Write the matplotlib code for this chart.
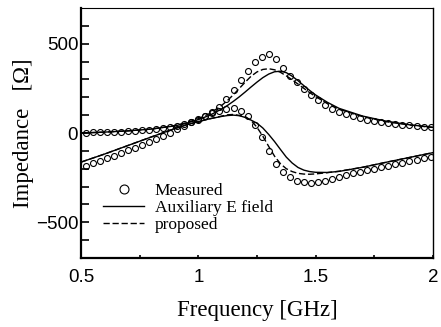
import numpy as np
import matplotlib
matplotlib.use('Agg')
import matplotlib.pyplot as plt

# measured points (every ~0.03 GHz)
f_meas = np.round(np.arange(0.52, 2.0, 0.03), 2)
re_meas = [2, 3, 4, 5, 7, 8, 10, 12, 15, 18, 22, 27, 33, 40, 50, 62, 75, 95, 118, 148,
           190, 240, 295, 350, 397, 428, 440, 412, 363, 322, 284, 248, 215, 185, 158, 136,
           118, 104, 93, 83, 75, 68, 62, 56, 51, 47, 43, 39, 35, 32]
im_meas = [-182, -168, -154, -140, -126, -112, -97, -82, -67, -50, -34, -17, 2, 22, 42, 62,
           80, 97, 112, 125, 134, 138, 125, 95, 45, -25, -98, -172, -218, -248, -266, -276,
           -278, -274, -266, -256, -246, -236, -226, -217, -208, -199, -190, -182, -174, -166,
           -158, -150, -142, -134]

# simulated curves
f_line = [0.5, 0.6, 0.7, 0.8, 0.9, 0.95, 1.0, 1.05, 1.1, 1.125, 1.15, 1.175, 1.2, 1.225,
          1.25, 1.275, 1.3, 1.325, 1.35, 1.375, 1.4, 1.425, 1.45, 1.475, 1.5, 1.55, 1.6,
          1.7, 1.8, 1.9, 2.0]
aux_re = [0, 5, 12, 22, 40, 55, 75, 100, 135, 155, 178, 203, 230, 258, 285, 310, 330, 343,
          346, 338, 318, 293, 265, 238, 213, 172, 138, 95, 66, 46, 32]
aux_im = [-163, -118, -70, -22, 25, 46, 64, 80, 93, 98, 100, 97, 87, 72, 55, 28, -8, -48,
          -92, -135, -168, -193, -208, -216, -220, -221, -215, -192, -164, -137, -110]
prop_re = [0, 5, 12, 22, 42, 58, 80, 110, 155, 183, 215, 250, 285, 318, 342, 356, 360, 354,
           340, 320, 298, 274, 250, 226, 204, 165, 133, 92, 64, 45, 31]
prop_im = [-163, -118, -70, -22, 25, 46, 64, 80, 95, 102, 104, 98, 92, 70, 32, -18, -75,
           -130, -172, -200, -216, -226, -230, -231, -229, -222, -214, -192, -164, -137, -110]

fig = plt.figure(figsize=(4.41, 3.27), dpi=100)
ax = fig.add_axes([0.1837, 0.211, 0.798, 0.7645])

mk = dict(marker='o', ls='none', ms=4.3, mfc='none', mec='black', mew=0.8)
ax.plot(f_meas, re_meas, label='Measured', **mk)
ax.plot(f_meas, im_meas, **mk)
ax.plot(f_line, aux_re, color='black', lw=1.0, label='Auxiliary E field')
ax.plot(f_line, aux_im, color='black', lw=1.0)
ax.plot(f_line, prop_re, color='black', lw=1.0, dashes=(4.5, 2), label='proposed')
ax.plot(f_line, prop_im, color='black', lw=1.0, dashes=(4.5, 2))

ax.set_xlim(0.5, 2.0)
ax.set_ylim(-700, 700)
ax.set_xticks([0.5, 1, 1.5, 2])
ax.set_xticklabels(['0.5', '1', '1.5', '2'])
ax.set_xticks([0.75, 1.25, 1.75], minor=True)
ax.set_yticks([-500, 0, 500])
ax.set_yticklabels(['\u2212500', '0', '500'])
ax.set_yticks(np.arange(-600, 700, 100), minor=True)

ax.tick_params(axis='both', which='both', direction='in', top=False, right=False,
               labelsize=13.5, width=1.2)
ax.tick_params(axis='y', which='both', length=6)
ax.tick_params(axis='x', which='both', length=2.5)
for lbl in ax.get_xticklabels() + ax.get_yticklabels():
    lbl.set_fontfamily('Liberation Sans')
ax.tick_params(axis='x', pad=8)
ax.tick_params(axis='y', pad=2)

ax.spines['left'].set_linewidth(1.6)
ax.spines['bottom'].set_linewidth(1.6)
ax.spines['top'].set_linewidth(0.8)
ax.spines['right'].set_linewidth(1.0)

ax.set_xlabel('Frequency [GHz]', fontfamily='Liberation Serif', fontsize=16.5, labelpad=10)
ax.set_ylabel('Impedance   [\u03a9]', fontfamily='Liberation Serif', fontsize=16.5, labelpad=1)

leg = ax.legend(loc='lower left', bbox_to_anchor=(0.062, 0.1), frameon=False,
                prop={'family': 'Liberation Serif', 'size': 12.5}, handlelength=2.4,
                handletextpad=0.6, labelspacing=0.05, borderpad=0, borderaxespad=0,
                markerscale=1.5)

fig.savefig('out.png', dpi=100)
